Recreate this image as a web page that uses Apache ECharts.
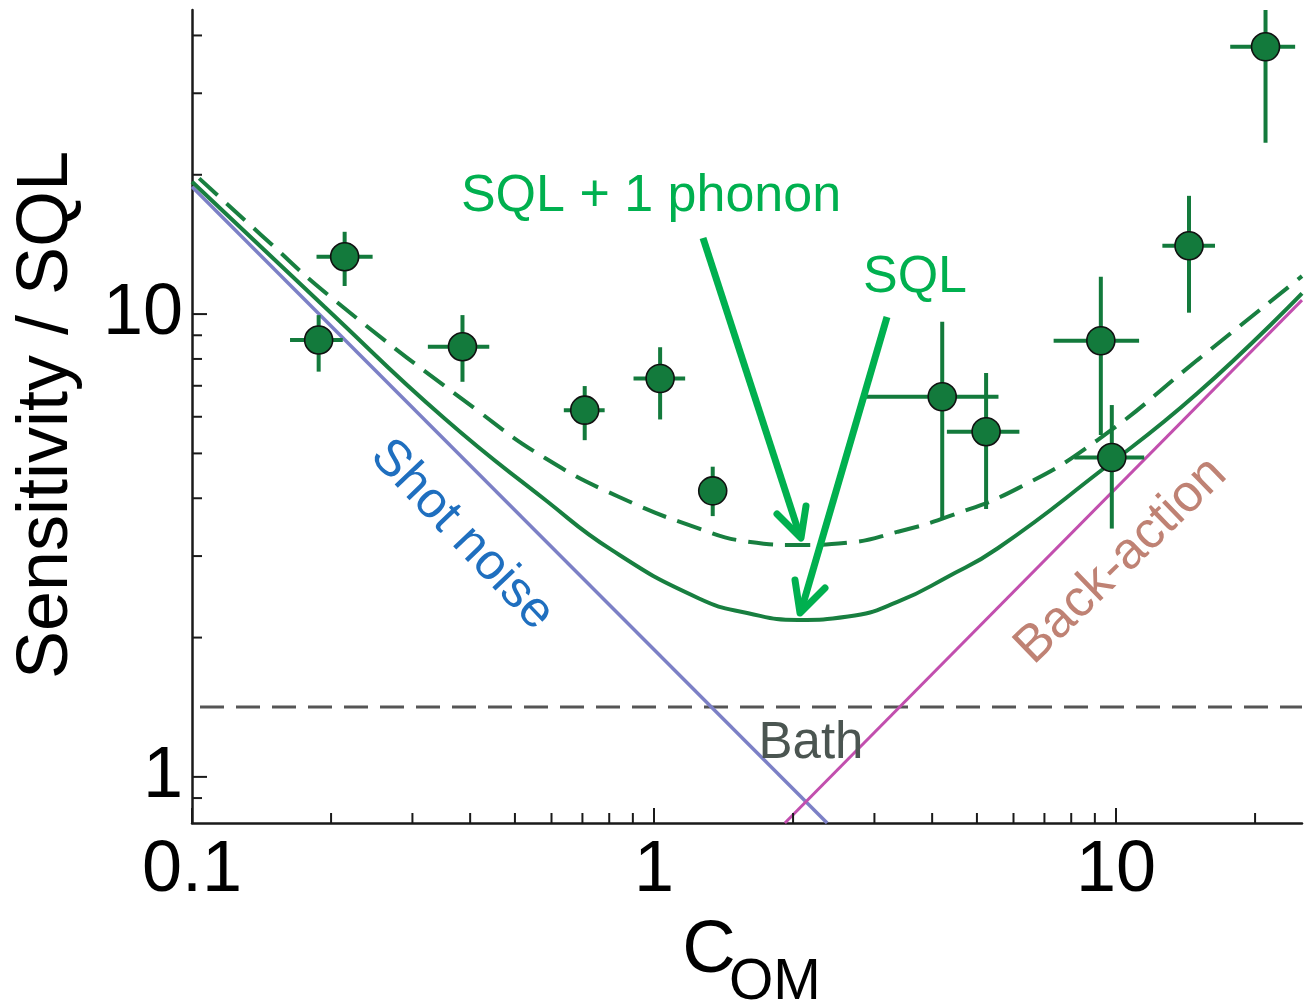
<!DOCTYPE html>
<html>
<head>
<meta charset="utf-8">
<title>Sensitivity / SQL vs C_OM</title>
<script src="https://cdn.jsdelivr.net/npm/echarts@6/dist/echarts.min.js"></script>
<style>
  html, body { margin: 0; padding: 0; background: #ffffff; }
  #chart { width: 1305px; height: 1008px; }
</style>
</head>
<body>
<div id="chart"></div>
<script>
// ---- measured points: cooperativity, sensitivity and their error ranges ----
const comValues   = [0.188, 0.214, 0.385, 0.708, 1.031, 1.340, 4.206, 5.234, 9.272, 9.793, 14.39, 21.07];
const sensValues  = [8.79, 13.30, 8.50, 6.20, 7.26, 4.15, 6.63, 5.57, 8.76, 4.90, 14.05, 37.8];
const comLow      = [0.163, 0.186, 0.324, 0.638, 0.903, 1.340, 2.858, 4.305, 7.328, 8.123, 12.60, 17.67];
const comHigh     = [0.212, 0.246, 0.440, 0.782, 1.168, 1.340, 5.567, 6.179, 11.22, 11.51, 16.38, 24.42];
const sensLow     = [7.51, 11.50, 7.14, 5.34, 5.92, 3.66, 3.59, 3.79, 5.48, 3.44, 10.07, 23.44];
const sensHigh    = [9.95, 15.06, 9.95, 6.99, 8.48, 4.68, 9.63, 7.46, 12.04, 6.36, 18.01, 45.4];

// ---- model curves ----
const sqlCom   = [0.1, 0.1935, 0.3516, 0.5821, 0.8094, 1.248, 1.600, 2.051, 2.631, 3.374, 4.326, 5.548, 9.122, 15.0, 25.27];
const sqlLevel = [19.31, 10.37, 5.953, 3.966, 3.093, 2.432, 2.258, 2.183, 2.220, 2.391, 2.708, 3.119, 4.529, 6.742, 11.08];

const phononCom   = [0.1, 0.1413, 0.2034, 0.4219, 0.5821, 0.8383, 1.248, 1.600, 2.051, 2.631, 3.374, 4.326, 6.128, 9.122, 15.0, 25.27];
const phononLevel = [20.3, 14.81, 10.72, 6.112, 4.879, 4.031, 3.444, 3.223, 3.170, 3.207, 3.387, 3.649, 4.202, 5.344, 7.955, 12.08];

const shotCom   = [0.1, 2.37];
const shotLevel = [18.84, 0.795];

const backActionCom   = [1.92, 25.27];
const backActionLevel = [0.795, 10.72];

const bathCom   = [0.1, 25.27];
const bathLevel = [1.416, 1.416];

// ---- axis ranges and tick positions ----
const xRange = [0.1, 25.27];
const yRange = [0.795, 45.4];
const xMajorTicks = [0.1, 1, 10];
const xMinorTicks = [0.2, 0.3, 0.4, 0.5, 0.6, 0.7, 0.8, 0.9, 2, 3, 4, 5, 6, 7, 8, 9, 20];
const yMajorTicks = [1, 10];
const yMinorTicks = [0.9, 2, 3, 4, 5, 6, 7, 8, 9, 20, 30, 40];

const FONT = "'Liberation Sans', Arial, Helvetica, sans-serif";
const AXIS_COLOR = '#1a1a1a';
const POINT_GREEN = '#137a3c';
const CURVE_GREEN = '#187f40';
const NOTE_GREEN = '#00b04f';

const zip = (xs, ys) => xs.map((x, i) => [x, ys[i]]);
const isDecade = v => Math.abs(Math.log10(v) - Math.round(Math.log10(v))) < 1e-6;

function tickSeries(values, len, vertical) {
  return {
    type: 'custom',
    silent: true,
    z: 5,
    data: values.map(v => vertical ? [v, yRange[0]] : [xRange[0], v]),
    renderItem: function (params, api) {
      const p = api.coord([api.value(0), api.value(1)]);
      const shape = vertical
        ? { x1: p[0], y1: p[1], x2: p[0], y2: p[1] - len }
        : { x1: p[0], y1: p[1], x2: p[0] + len, y2: p[1] };
      return { type: 'line', shape: shape, style: { stroke: AXIS_COLOR, lineWidth: 2 } };
    }
  };
}

const chart = echarts.init(document.getElementById('chart'), null, { renderer: 'canvas' });

const option = {
  backgroundColor: '#ffffff',
  animation: false,
  grid: { left: 192, right: 0, top: 10, bottom: 185 },
  xAxis: {
    type: 'log', logBase: 10, min: xRange[0], max: xRange[1],
    axisLine: { show: true, lineStyle: { color: AXIS_COLOR, width: 2.5 } },
    axisTick: { show: false },
    splitLine: { show: false },
    axisLabel: {
      margin: 12, fontSize: 72, color: '#000', fontFamily: FONT,
      formatter: v => isDecade(v) ? String(+(+v).toPrecision(3)) : ''
    }
  },
  yAxis: {
    type: 'log', logBase: 10, min: yRange[0], max: yRange[1],
    axisLine: { show: true, lineStyle: { color: AXIS_COLOR, width: 2.5 } },
    axisTick: { show: false },
    splitLine: { show: false },
    axisLabel: {
      margin: 9, fontSize: 72, color: '#000', fontFamily: FONT,
      formatter: v => isDecade(v) ? String(+(+v).toPrecision(3)) : ''
    }
  },
  series: [
    tickSeries(xMajorTicks, 15, true),
    tickSeries(xMinorTicks, 10, true),
    tickSeries(yMajorTicks, 15, false),
    tickSeries(yMinorTicks, 10, false),
    {
      name: 'Bath', type: 'line', data: zip(bathCom, bathLevel), symbol: 'none',
      lineStyle: { color: '#555555', width: 3.2, type: [24, 12], dashOffset: -8 }, z: 2
    },
    {
      name: 'Shot noise', type: 'line', data: zip(shotCom, shotLevel), symbol: 'none',
      lineStyle: { color: '#7c80c6', width: 3.5 }, z: 2
    },
    {
      name: 'Back-action', type: 'line', data: zip(backActionCom, backActionLevel), symbol: 'none',
      lineStyle: { color: '#c24fae', width: 3 }, z: 2
    },
    {
      name: 'SQL', type: 'line', data: zip(sqlCom, sqlLevel), symbol: 'none',
      smooth: 0.5,
      lineStyle: { color: CURVE_GREEN, width: 4 }, z: 3
    },
    {
      name: 'SQL + 1 phonon', type: 'line', data: zip(phononCom, phononLevel), symbol: 'none',
      smooth: 0.5,
      lineStyle: { color: CURVE_GREEN, width: 4, type: [25, 12], dashOffset: -10 }, z: 3
    },
    {
      name: 'error bars', type: 'custom', z: 4,
      data: comValues.map((c, i) => [c, sensValues[i], comLow[i], comHigh[i], sensLow[i], sensHigh[i]]),
      encode: { x: 0, y: 1 },
      renderItem: function (params, api) {
        const y = api.value(1), x = api.value(0);
        const h1 = api.coord([api.value(2), y]);
        const h2 = api.coord([api.value(3), y]);
        const v1 = api.coord([x, api.value(4)]);
        const v2 = api.coord([x, api.value(5)]);
        const style = { stroke: POINT_GREEN, lineWidth: 4 };
        return {
          type: 'group',
          children: [
            { type: 'line', shape: { x1: h1[0], y1: h1[1], x2: h2[0], y2: h2[1] }, style: style },
            { type: 'line', shape: { x1: v1[0], y1: v1[1], x2: v2[0], y2: v2[1] }, style: style }
          ]
        };
      }
    },
    {
      name: 'measured', type: 'scatter', z: 6,
      data: zip(comValues, sensValues),
      symbol: 'circle', symbolSize: 28,
      itemStyle: { color: POINT_GREEN, borderColor: '#111111', borderWidth: 1.6, opacity: 1 }
    }
  ],
  graphic: [
    // axis titles
    {
      type: 'text', x: 47, y: 415, rotation: Math.PI / 2, z: 20,
      style: { text: 'Sensitivity / SQL', fill: '#000', fontSize: 72, fontFamily: FONT, align: 'center', verticalAlign: 'middle' }
    },
    {
      type: 'text', x: 709, y: 952, z: 20,
      style: { text: 'C', fill: '#000', fontSize: 74, fontFamily: FONT, align: 'center', verticalAlign: 'middle' }
    },
    {
      type: 'text', x: 729, y: 983, z: 20,
      style: { text: 'OM', fill: '#000', fontSize: 57, fontFamily: FONT, align: 'left', verticalAlign: 'middle' }
    },
    // curve annotations
    {
      type: 'text', x: 651, y: 197, z: 20,
      style: { text: 'SQL + 1 phonon', fill: NOTE_GREEN, fontSize: 52, fontFamily: FONT, align: 'center', verticalAlign: 'middle' }
    },
    {
      type: 'text', x: 915, y: 278, z: 20,
      style: { text: 'SQL', fill: NOTE_GREEN, fontSize: 52, fontFamily: FONT, align: 'center', verticalAlign: 'middle' }
    },
    {
      type: 'text', x: 462, y: 535, rotation: -0.81, z: 20,
      style: { text: 'Shot noise', fill: '#1f6fbf', fontSize: 51, fontFamily: FONT, align: 'center', verticalAlign: 'middle' }
    },
    {
      type: 'text', x: 1121, y: 561, rotation: 0.77, z: 20,
      style: { text: 'Back-action', fill: '#bf8274', fontSize: 52, fontFamily: FONT, align: 'center', verticalAlign: 'middle' }
    },
    {
      type: 'text', x: 811, y: 744, z: 20,
      style: { text: 'Bath', fill: '#4b5551', fontSize: 51, fontFamily: FONT, align: 'center', verticalAlign: 'middle' }
    },
    // arrows pointing at the curve minima
    {
      type: 'polyline', z: 19, shape: { points: [[703, 238], [800, 536]] },
      style: { stroke: NOTE_GREEN, lineWidth: 7, fill: null, lineCap: 'butt' }
    },
    {
      type: 'polyline', z: 19, shape: { points: [[777, 514], [801, 538], [806, 506]] },
      style: { stroke: NOTE_GREEN, lineWidth: 7, fill: null, lineJoin: 'round', lineCap: 'round' }
    },
    {
      type: 'polyline', z: 19, shape: { points: [[887, 317], [801, 611]] },
      style: { stroke: NOTE_GREEN, lineWidth: 7, fill: null, lineCap: 'butt' }
    },
    {
      type: 'polyline', z: 19, shape: { points: [[795, 580], [800, 613], [825, 588]] },
      style: { stroke: NOTE_GREEN, lineWidth: 7, fill: null, lineJoin: 'round', lineCap: 'round' }
    }
  ]
};

chart.setOption(option);
</script>
</body>
</html>
